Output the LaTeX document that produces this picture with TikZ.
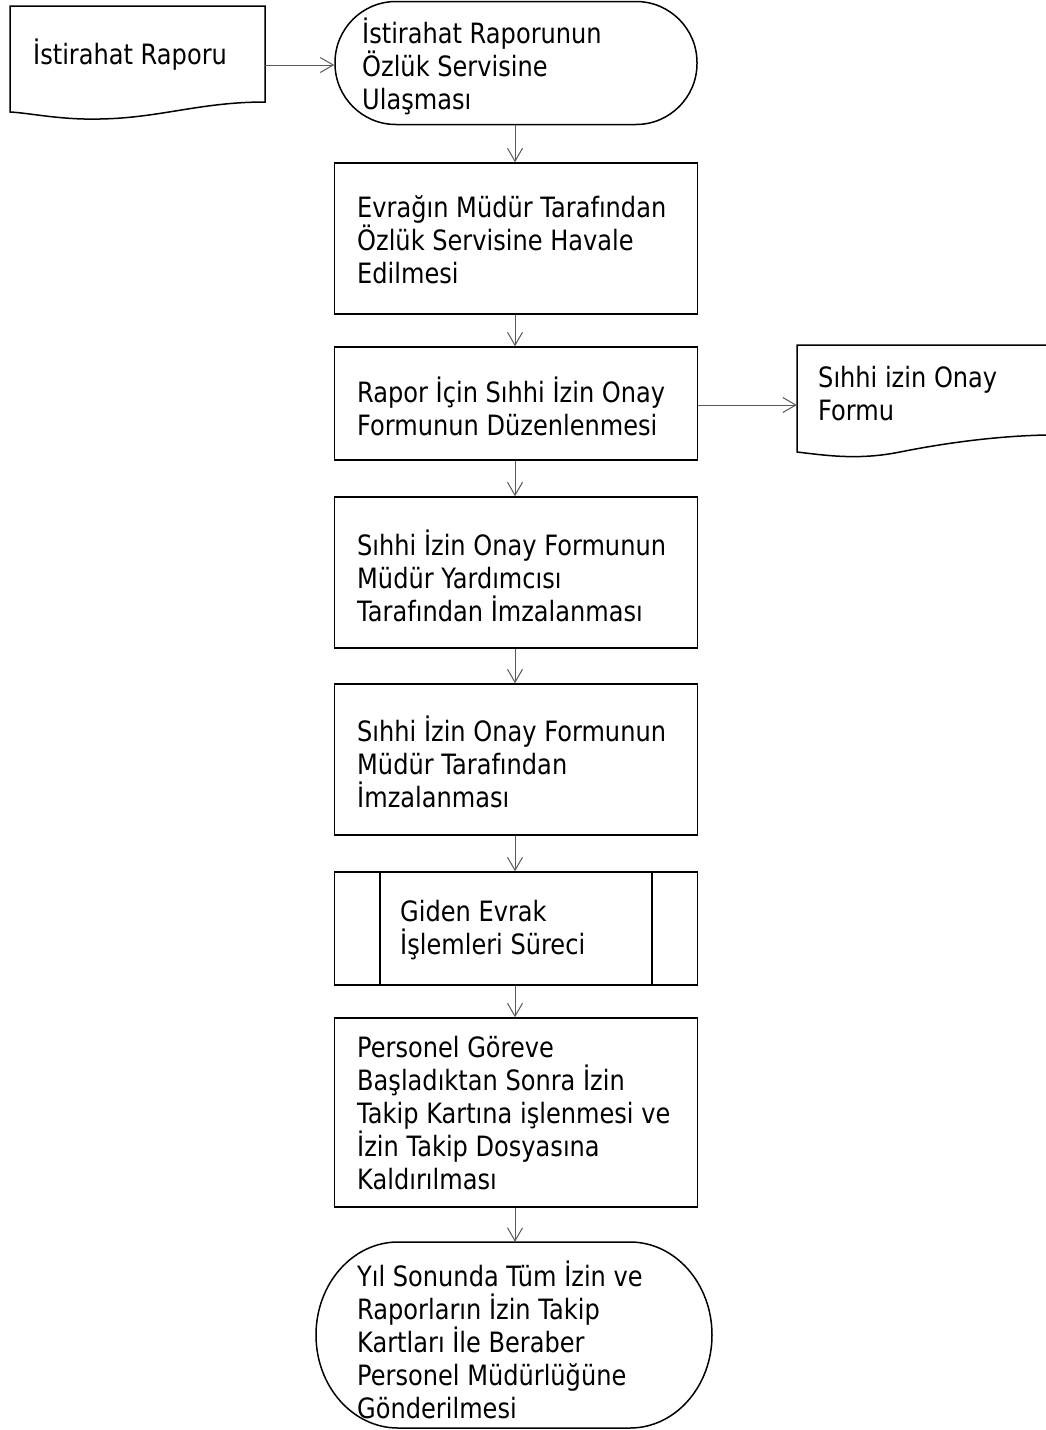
\documentclass[tikz,border=0pt]{standalone}
\usepackage{fontspec}
\setmainfont{DejaVu Sans}[FakeStretch=0.86]
\usetikzlibrary{arrows.meta}
\begin{document}
\begin{tikzpicture}[x=1pt,y=-1pt,
  shapeline/.style={draw=black,line width=1.5pt},
  procbox/.style={shapeline,rectangle,minimum width=363pt,inner sep=0pt},
  termbox/.style={shapeline,rectangle,inner sep=0pt},
  txt/.style={anchor=west,align=left,inner sep=0pt,font=\fontsize{28}{33}\selectfont},
  conn/.style={draw=black!65,line width=1pt,-{Straight Barb[length=13pt,width=15pt,line width=1pt]}}
]
\useasboundingbox (0,0) rectangle (1046,1430);
\fill[white] (0,0) rectangle (1046,1430);

% document 1
\draw[shapeline] (10,6) -- (265,6) -- (265,102) .. controls (200,102) and (160,118) .. (100,119) .. controls (60,120) and (30,113) .. (10,112) -- cycle;
\node[inner sep=0pt,minimum width=255pt,minimum height=96pt] (doc1) at (137.5,54) {};
\node[txt] (doc1t) at (33,55) {İstirahat Raporu};

% terminal 1
\node[termbox,minimum width=362pt,minimum height=123pt,rounded corners=61pt] (t1) at (516,63) {};
\node[txt] (t1t) at (362,66) {İstirahat Raporunun\\Özlük Servisine\\Ulaşması};

% box 2
\node[procbox,minimum height=151pt] (b2) at (516,238.5) {};
\node[txt] (b2t) at (357,240) {Evrağın Müdür Tarafından\\Özlük Servisine Havale\\Edilmesi};

% box 3
\node[procbox,minimum height=113pt] (b3) at (516,403.5) {};
\node[txt] (b3t) at (357,406) {Rapor İçin Sıhhi İzin Onay\\Formunun Düzenlenmesi};

% document 2
\draw[shapeline] (1046,345) -- (797,345) -- (797,452) .. controls (830,456) and (860,460) .. (900,452) .. controls (950,442) and (1000,436) .. (1046,435);
\node[inner sep=0pt,minimum width=249pt,minimum height=100pt] (doc2) at (921.5,395) {};
\node[txt] (doc2t) at (818,394) {Sıhhi izin Onay\\Formu};

% box 4
\node[procbox,minimum height=151pt] (b4) at (516,572.5) {};
\node[txt] (b4t) at (357,575.5) {Sıhhi İzin Onay Formunun\\Müdür Yardımcısı\\Tarafından İmzalanması};

% box 5
\node[procbox,minimum height=151pt] (b5) at (516,759.5) {};
\node[txt] (b5t) at (357,762) {Sıhhi İzin Onay Formunun\\Müdür Tarafından\\İmzalanması};

% box 6 predefined process
\node[procbox,minimum height=113pt] (b6) at (516,928.5) {};
\draw[shapeline] (380,872) -- (380,985) (652,872) -- (652,985);
\node[txt] (b6t) at (400,930) {Giden Evrak\\İşlemleri Süreci};

% box 7
\node[procbox,minimum height=189pt] (b7) at (516,1112.5) {};
\node[txt] (b7t) at (357,1113) {Personel Göreve\\Başladıktan Sonra İzin\\Takip Kartına işlenmesi ve\\İzin Takip Dosyasına\\Kaldırılması};

% terminal 2
\node[inner sep=0pt,minimum width=396pt,minimum height=186pt] (t2) at (514,1335) {};
\draw[shapeline] (398,1242) -- (630,1242) arc[start angle=90,end angle=-90,x radius=82pt,y radius=93pt] -- (398,1428) arc[start angle=270,end angle=90,x radius=82pt,y radius=93pt] -- cycle;
\node[txt] (t2t) at (357,1340) {Yıl Sonunda Tüm İzin ve\\Raporların İzin Takip\\Kartları İle Beraber\\Personel Müdürlüğüne\\Gönderilmesi};

% connectors
\draw[conn] (doc1.east |- 0,65) -- (t1.west |- 0,65);
\draw[conn] (t1.south -| 515,0) -- (b2.north -| 515,0);
\draw[conn] (b2.south -| 515,0) -- (b3.north -| 515,0);
\draw[conn] (b3.east |- 0,405) -- (doc2.west |- 0,405);
\draw[conn] (b3.south -| 515,0) -- (b4.north -| 515,0);
\draw[conn] (b4.south -| 515,0) -- (b5.north -| 515,0);
\draw[conn] (b5.south -| 515,0) -- (b6.north -| 515,0);
\draw[conn] (b6.south -| 515,0) -- (b7.north -| 515,0);
\draw[conn] (b7.south -| 515,0) -- (t2.north -| 515,0);
\end{tikzpicture}
\end{document}
